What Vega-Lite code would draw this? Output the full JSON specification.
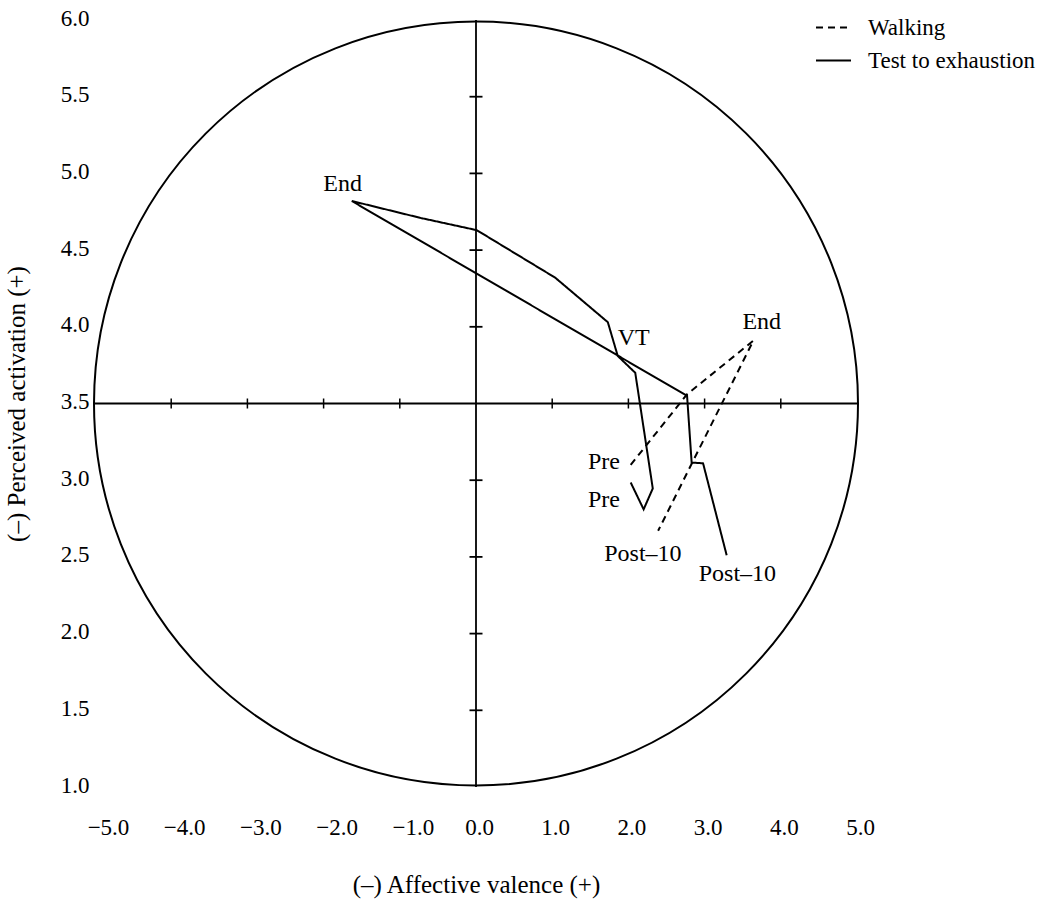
{
  "$schema": "https://vega.github.io/schema/vega-lite/v6.json",
  "width": 762,
  "height": 767,
  "autosize": "none",
  "padding": {"left": 95, "top": 20, "right": 180, "bottom": 116},
  "background": "white",
  "config": {
    "view": {"stroke": null},
    "font": "Liberation Serif",
    "axis": {"grid": false, "domain": false, "ticks": false, "labelFont": "Liberation Serif", "titleFont": "Liberation Serif", "labelColor": "black", "titleColor": "black", "titleFontWeight": "normal"}
  },
  "datasets": {
    "lines": [
      {"condition": "Walking", "seq": 1, "valence": 2.03, "activation": 3.10},
      {"condition": "Walking", "seq": 2, "valence": 2.77, "activation": 3.56},
      {"condition": "Walking", "seq": 3, "valence": 3.64, "activation": 3.91},
      {"condition": "Walking", "seq": 4, "valence": 2.39, "activation": 2.67},
      {"condition": "Test to exhaustion", "seq": 1, "valence": 2.03, "activation": 2.985},
      {"condition": "Test to exhaustion", "seq": 2, "valence": 2.20, "activation": 2.81},
      {"condition": "Test to exhaustion", "seq": 3, "valence": 2.32, "activation": 2.946},
      {"condition": "Test to exhaustion", "seq": 4, "valence": 2.09, "activation": 3.70},
      {"condition": "Test to exhaustion", "seq": 5, "valence": 1.86, "activation": 3.81},
      {"condition": "Test to exhaustion", "seq": 6, "valence": 1.73, "activation": 4.03},
      {"condition": "Test to exhaustion", "seq": 7, "valence": 1.04, "activation": 4.32},
      {"condition": "Test to exhaustion", "seq": 8, "valence": 0.01, "activation": 4.63},
      {"condition": "Test to exhaustion", "seq": 9, "valence": -0.73, "activation": 4.71},
      {"condition": "Test to exhaustion", "seq": 10, "valence": -1.63, "activation": 4.82},
      {"condition": "Test to exhaustion", "seq": 11, "valence": 2.77, "activation": 3.55},
      {"condition": "Test to exhaustion", "seq": 12, "valence": 2.83, "activation": 3.115},
      {"condition": "Test to exhaustion", "seq": 13, "valence": 2.98, "activation": 3.11},
      {"condition": "Test to exhaustion", "seq": 14, "valence": 3.29, "activation": 2.51}
    ],
    "labels": [
      {"label": "End", "valence": -1.75, "activation": 4.93},
      {"label": "VT", "valence": 2.07, "activation": 3.93},
      {"label": "End", "valence": 3.75, "activation": 4.03},
      {"label": "Pre", "valence": 1.68, "activation": 3.12},
      {"label": "Pre", "valence": 1.68, "activation": 2.87},
      {"label": "Post–10", "valence": 2.19, "activation": 2.52},
      {"label": "Post–10", "valence": 3.43, "activation": 2.39}
    ],
    "xticks": [
      {"valence": -4, "activation": 3.5}, {"valence": -3, "activation": 3.5},
      {"valence": -2, "activation": 3.5}, {"valence": -1, "activation": 3.5},
      {"valence": 1, "activation": 3.5}, {"valence": 2, "activation": 3.5},
      {"valence": 3, "activation": 3.5}, {"valence": 4, "activation": 3.5}
    ],
    "yticks": [
      {"valence": 0, "activation": 1.5}, {"valence": 0, "activation": 2.0},
      {"valence": 0, "activation": 2.5}, {"valence": 0, "activation": 3.0},
      {"valence": 0, "activation": 4.0}, {"valence": 0, "activation": 4.5},
      {"valence": 0, "activation": 5.0}, {"valence": 0, "activation": 5.5}
    ]
  },
  "encoding": {
    "x": {
      "field": "valence", "type": "quantitative",
      "scale": {"domain": [-5, 5], "nice": false, "zero": false},
      "axis": {"values": [-5, -4, -3, -2, -1, 0, 1, 2, 3, 4, 5], "format": ".1f", "labelFontSize": 23, "labelPadding": 29, "labelFlush": false, "labelOverlap": false, "labelOffset": {"condition": {"test": "datum.value < 0", "value": 13}, "value": 3}, "title": "(–) Affective valence (+)", "titleFontSize": 25, "titlePadding": 33}
    },
    "y": {
      "field": "activation", "type": "quantitative",
      "scale": {"domain": [1, 6], "nice": false, "zero": false},
      "axis": {"values": [1, 1.5, 2, 2.5, 3, 3.5, 4, 4.5, 5, 5.5, 6], "format": ".1f", "labelFontSize": 23, "labelPadding": 6, "labelFlush": false, "labelOverlap": false, "labelOffset": -2, "title": "(–) Perceived activation (+)", "titleFontSize": 25, "titlePadding": 31}
    }
  },
  "layer": [
    {
      "data": {"values": [{"valence": 0, "activation": 3.5}]},
      "mark": {"type": "point", "shape": "circle", "filled": false, "size": 583696, "stroke": "black", "strokeWidth": 2, "opacity": 1}
    },
    {
      "data": {"values": [{"valence": -5, "valence2": 5, "activation": 3.5}]},
      "mark": {"type": "rule", "color": "black", "strokeWidth": 1.8},
      "encoding": {"x2": {"field": "valence2"}}
    },
    {
      "data": {"values": [{"valence": 0, "activation": 1, "activation2": 6}]},
      "mark": {"type": "rule", "color": "black", "strokeWidth": 1.8},
      "encoding": {"y2": {"field": "activation2"}}
    },
    {
      "data": {"name": "xticks"},
      "mark": {"type": "tick", "orient": "vertical", "size": 10, "thickness": 1.5, "color": "black", "opacity": 1}
    },
    {
      "data": {"name": "yticks"},
      "mark": {"type": "tick", "orient": "horizontal", "size": 13, "thickness": 1.8, "color": "black", "opacity": 1}
    },
    {
      "data": {"name": "lines"},
      "mark": {"type": "line", "color": "black", "strokeWidth": 2},
      "encoding": {
        "detail": {"field": "condition"},
        "order": {"field": "seq", "type": "quantitative"},
        "strokeDash": {
          "field": "condition", "type": "nominal",
          "scale": {"domain": ["Walking", "Test to exhaustion"], "range": [[7, 5], [1, 0]]},
          "legend": {"title": null, "orient": "none", "legendX": 720, "legendY": -11, "symbolType": "stroke", "symbolSize": 1225, "symbolStrokeWidth": 1.8, "symbolStrokeColor": "black", "labelFont": "Liberation Serif", "labelFontSize": 23, "labelColor": "black", "labelOffset": 16, "rowPadding": 2, "labelLimit": 400}
        }
      }
    },
    {
      "data": {"name": "labels"},
      "mark": {"type": "text", "font": "Liberation Serif", "fontSize": 24, "align": "center", "baseline": "middle", "color": "black"},
      "encoding": {"text": {"field": "label"}}
    }
  ]
}
